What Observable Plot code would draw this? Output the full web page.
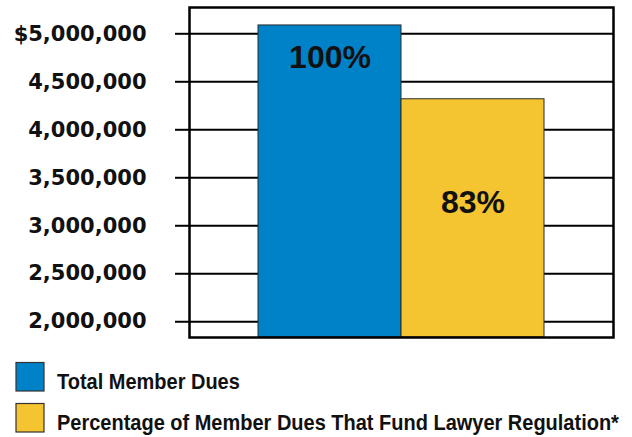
<!DOCTYPE html>
<html><head><meta charset="utf-8">
<script src="https://cdn.jsdelivr.net/npm/d3@7"></script>
<script src="https://cdn.jsdelivr.net/npm/@observablehq/plot@0.6"></script>
<style>
body{margin:0;background:#fff}
#chart{position:relative;width:632px;height:437px;overflow:hidden}
#chart svg{display:block}
</style>
</head><body><div id="chart"></div>
<script>
const categories = ["Total Member Dues", "Percentage of Member Dues That Fund Lawyer Regulation*"];
const values = [5087000, 4318000];
const barLabels = ["100%", "83%"];
const barColors = ["#0082C8", "#F4C431"];
const yTicks = [2000000, 2500000, 3000000, 3500000, 4000000, 4500000, 5000000];
const yTickLabels = ["2,000,000", "2,500,000", "3,000,000", "3,500,000", "4,000,000", "4,500,000", "$5,000,000"];
const yDomain = [1836000, 5274000];

const data = categories.map((c, i) => ({category: c, value: values[i], label: barLabels[i]}));
const fmt = d => yTickLabels[yTicks.indexOf(d)];

const plot = Plot.plot({
  width: 632, height: 345,
  marginLeft: 189, marginRight: 19, marginTop: 7, marginBottom: 8,
  style: {background: "#fff", overflow: "visible"},
  x: {domain: categories, paddingInner: 0, paddingOuter: 0.48, axis: null},
  y: {domain: yDomain, axis: null, label: null},
  color: {domain: categories, range: barColors},
  marks: [
    Plot.gridY(yTicks, {stroke: "#000", strokeOpacity: 1, strokeWidth: 2}),
    Plot.axisY(yTicks, {label: null, tickSize: 14, tickFormat: () => "", stroke: "#000", strokeWidth: 2}),
    Plot.axisY(yTicks, {label: null, tickSize: 0, tickPadding: 43, tickFormat: fmt, fontSize: 21, fontWeight: "bold", fontFamily: "DejaVu Sans", fill: "#111"}),
    Plot.barY(data, {x: "category", y1: yDomain[0], y2: "value", fill: "category", stroke: "#2a2a2a", strokeWidth: 1}),
    Plot.text([data[0]], {x: "category", y: "value", text: "label", dy: 32, fontSize: 32, fontWeight: "bold", fontFamily: "Liberation Sans", fill: "#111"}),
    Plot.text([data[1]], {x: "category", y: "value", text: "label", dy: 103, fontSize: 32, fontWeight: "bold", fontFamily: "Liberation Sans", fill: "#111"}),
    Plot.frame({stroke: "#000", strokeWidth: 2.5})
  ]
});
const chart = document.getElementById("chart");
chart.appendChild(plot);

// Legend below the plot
const legend = d3.create("svg").attr("width", 632).attr("height", 92).style("display", "block");
chart.appendChild(legend.node());
const items = legend.selectAll("g").data(categories).join("g")
  .attr("transform", (d, i) => `translate(0,${i * 41})`);
items.append("rect").attr("x", 16).attr("y", 17.5).attr("width", 28).attr("height", 28.5)
  .attr("fill", (d, i) => barColors[i]).attr("stroke", "#333").attr("stroke-width", 1.2);
items.append("g").attr("transform", "translate(57,43.5) scale(0.93,1)")
  .append("text").attr("x", 0).attr("y", 0).text(d => d)
  .attr("font-family", "'Liberation Sans', sans-serif")
  .attr("font-weight", "bold").attr("font-size", 21.5).attr("fill", "#111");
</script>
</body></html>
